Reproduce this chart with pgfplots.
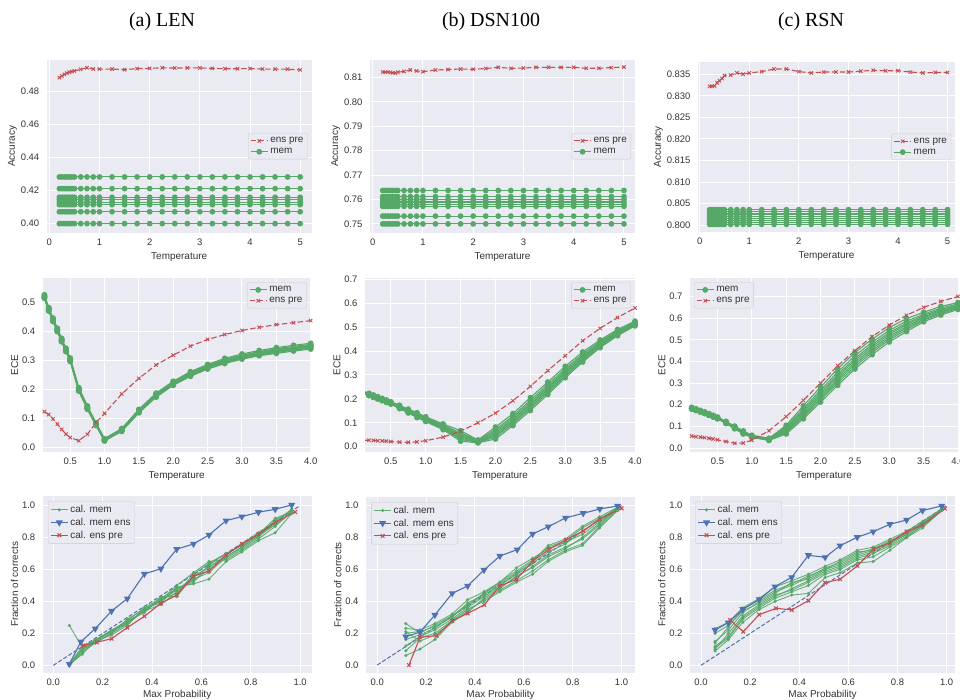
\documentclass[border=0pt]{standalone}
\usepackage{pgfplots}
\pgfplotsset{compat=1.18}
\usepackage{pgfplotstable}
\usepackage{fontspec}
\setmainfont{Liberation Sans}
\newfontfamily\titlefont{Liberation Serif}

\definecolor{sbbg}{HTML}{EAEAF2}
\definecolor{sbred}{HTML}{C44E52}
\definecolor{sbgreen}{HTML}{55A868}
\definecolor{sbblue}{HTML}{4C72B0}
\definecolor{lbl}{HTML}{333333}

% accuracy vs temperature: e = ens pre, m1..m8 = members
\pgfplotstableread{
T e m1 m2 m3 m4 m5 m6 m7 m8
0.2   0.4885 0.4283 0.4212 0.4160 0.4145 0.4130 0.4115 0.4072 0.4000
0.25  0.4895 0.4283 0.4212 0.4160 0.4145 0.4130 0.4115 0.4072 0.4000
0.3   0.4905 0.4283 0.4212 0.4160 0.4145 0.4130 0.4115 0.4072 0.4000
0.35  0.4912 0.4283 0.4212 0.4160 0.4145 0.4130 0.4115 0.4072 0.4000
0.4   0.4918 0.4283 0.4212 0.4160 0.4145 0.4130 0.4115 0.4072 0.4000
0.45  0.4922 0.4283 0.4212 0.4160 0.4145 0.4130 0.4115 0.4072 0.4000
0.5   0.4926 0.4283 0.4212 0.4160 0.4145 0.4130 0.4115 0.4072 0.4000
0.625 0.4935 0.4283 0.4212 0.4160 0.4145 0.4130 0.4115 0.4072 0.4000
0.75  0.4945 0.4283 0.4212 0.4160 0.4145 0.4130 0.4115 0.4072 0.4000
0.875 0.4938 0.4283 0.4212 0.4160 0.4145 0.4130 0.4115 0.4072 0.4000
1     0.4937 0.4283 0.4212 0.4160 0.4145 0.4130 0.4115 0.4072 0.4000
1.25  0.4937 0.4283 0.4212 0.4160 0.4145 0.4130 0.4115 0.4072 0.4000
1.5   0.4933 0.4283 0.4212 0.4160 0.4145 0.4130 0.4115 0.4072 0.4000
1.75  0.4940 0.4283 0.4212 0.4160 0.4145 0.4130 0.4115 0.4072 0.4000
2     0.4941 0.4283 0.4212 0.4160 0.4145 0.4130 0.4115 0.4072 0.4000
2.25  0.4945 0.4283 0.4212 0.4160 0.4145 0.4130 0.4115 0.4072 0.4000
2.5   0.4943 0.4283 0.4212 0.4160 0.4145 0.4130 0.4115 0.4072 0.4000
2.75  0.4944 0.4283 0.4212 0.4160 0.4145 0.4130 0.4115 0.4072 0.4000
3     0.4944 0.4283 0.4212 0.4160 0.4145 0.4130 0.4115 0.4072 0.4000
3.25  0.4941 0.4283 0.4212 0.4160 0.4145 0.4130 0.4115 0.4072 0.4000
3.5   0.4939 0.4283 0.4212 0.4160 0.4145 0.4130 0.4115 0.4072 0.4000
3.75  0.4939 0.4283 0.4212 0.4160 0.4145 0.4130 0.4115 0.4072 0.4000
4     0.4940 0.4283 0.4212 0.4160 0.4145 0.4130 0.4115 0.4072 0.4000
4.25  0.4937 0.4283 0.4212 0.4160 0.4145 0.4130 0.4115 0.4072 0.4000
4.5   0.4937 0.4283 0.4212 0.4160 0.4145 0.4130 0.4115 0.4072 0.4000
4.75  0.4936 0.4283 0.4212 0.4160 0.4145 0.4130 0.4115 0.4072 0.4000
5     0.4932 0.4283 0.4212 0.4160 0.4145 0.4130 0.4115 0.4072 0.4000
}\accA

\pgfplotstableread{
T e m1 m2 m3 m4 m5 m6 m7 m8
0.2   0.8123 0.7637 0.7612 0.7600 0.7590 0.7580 0.7572 0.7532 0.7500
0.25  0.8122 0.7637 0.7612 0.7600 0.7590 0.7580 0.7572 0.7532 0.7500
0.3   0.8123 0.7637 0.7612 0.7600 0.7590 0.7580 0.7572 0.7532 0.7500
0.35  0.8121 0.7637 0.7612 0.7600 0.7590 0.7580 0.7572 0.7532 0.7500
0.4   0.8120 0.7637 0.7612 0.7600 0.7590 0.7580 0.7572 0.7532 0.7500
0.45  0.8119 0.7637 0.7612 0.7600 0.7590 0.7580 0.7572 0.7532 0.7500
0.5   0.8122 0.7637 0.7612 0.7600 0.7590 0.7580 0.7572 0.7532 0.7500
0.625 0.8125 0.7637 0.7612 0.7600 0.7590 0.7580 0.7572 0.7532 0.7500
0.75  0.8131 0.7637 0.7612 0.7600 0.7590 0.7580 0.7572 0.7532 0.7500
0.875 0.8127 0.7637 0.7612 0.7600 0.7590 0.7580 0.7572 0.7532 0.7500
1     0.8124 0.7637 0.7612 0.7600 0.7590 0.7580 0.7572 0.7532 0.7500
1.25  0.8131 0.7637 0.7612 0.7600 0.7590 0.7580 0.7572 0.7532 0.7500
1.5   0.8133 0.7637 0.7612 0.7600 0.7590 0.7580 0.7572 0.7532 0.7500
1.75  0.8135 0.7637 0.7612 0.7600 0.7590 0.7580 0.7572 0.7532 0.7500
2     0.8134 0.7637 0.7612 0.7600 0.7590 0.7580 0.7572 0.7532 0.7500
2.25  0.8137 0.7637 0.7612 0.7600 0.7590 0.7580 0.7572 0.7532 0.7500
2.5   0.8142 0.7637 0.7612 0.7600 0.7590 0.7580 0.7572 0.7532 0.7500
2.75  0.8138 0.7637 0.7612 0.7600 0.7590 0.7580 0.7572 0.7532 0.7500
3     0.8139 0.7637 0.7612 0.7600 0.7590 0.7580 0.7572 0.7532 0.7500
3.25  0.8142 0.7637 0.7612 0.7600 0.7590 0.7580 0.7572 0.7532 0.7500
3.5   0.8142 0.7637 0.7612 0.7600 0.7590 0.7580 0.7572 0.7532 0.7500
3.75  0.8142 0.7637 0.7612 0.7600 0.7590 0.7580 0.7572 0.7532 0.7500
4     0.8142 0.7637 0.7612 0.7600 0.7590 0.7580 0.7572 0.7532 0.7500
4.25  0.8138 0.7637 0.7612 0.7600 0.7590 0.7580 0.7572 0.7532 0.7500
4.5   0.8138 0.7637 0.7612 0.7600 0.7590 0.7580 0.7572 0.7532 0.7500
4.75  0.8141 0.7637 0.7612 0.7600 0.7590 0.7580 0.7572 0.7532 0.7500
5     0.8143 0.7637 0.7612 0.7600 0.7590 0.7580 0.7572 0.7532 0.7500
}\accB

\pgfplotstableread{
T e m1 m2 m3 m4 m5 m6 m7 m8
0.2   0.8322 0.8036 0.8031 0.8026 0.8021 0.8016 0.8011 0.8006 0.8002
0.25  0.8322 0.8036 0.8031 0.8026 0.8021 0.8016 0.8011 0.8006 0.8002
0.3   0.8323 0.8036 0.8031 0.8026 0.8021 0.8016 0.8011 0.8006 0.8002
0.35  0.8330 0.8036 0.8031 0.8026 0.8021 0.8016 0.8011 0.8006 0.8002
0.4   0.8335 0.8036 0.8031 0.8026 0.8021 0.8016 0.8011 0.8006 0.8002
0.45  0.8340 0.8036 0.8031 0.8026 0.8021 0.8016 0.8011 0.8006 0.8002
0.5   0.8347 0.8036 0.8031 0.8026 0.8021 0.8016 0.8011 0.8006 0.8002
0.625 0.8348 0.8036 0.8031 0.8026 0.8021 0.8016 0.8011 0.8006 0.8002
0.75  0.8353 0.8036 0.8031 0.8026 0.8021 0.8016 0.8011 0.8006 0.8002
0.875 0.8350 0.8036 0.8031 0.8026 0.8021 0.8016 0.8011 0.8006 0.8002
1     0.8353 0.8036 0.8031 0.8026 0.8021 0.8016 0.8011 0.8006 0.8002
1.25  0.8356 0.8036 0.8031 0.8026 0.8021 0.8016 0.8011 0.8006 0.8002
1.5   0.8362 0.8036 0.8031 0.8026 0.8021 0.8016 0.8011 0.8006 0.8002
1.75  0.8362 0.8036 0.8031 0.8026 0.8021 0.8016 0.8011 0.8006 0.8002
2     0.8356 0.8036 0.8031 0.8026 0.8021 0.8016 0.8011 0.8006 0.8002
2.25  0.8353 0.8036 0.8031 0.8026 0.8021 0.8016 0.8011 0.8006 0.8002
2.5   0.8355 0.8036 0.8031 0.8026 0.8021 0.8016 0.8011 0.8006 0.8002
2.75  0.8355 0.8036 0.8031 0.8026 0.8021 0.8016 0.8011 0.8006 0.8002
3     0.8355 0.8036 0.8031 0.8026 0.8021 0.8016 0.8011 0.8006 0.8002
3.25  0.8357 0.8036 0.8031 0.8026 0.8021 0.8016 0.8011 0.8006 0.8002
3.5   0.8359 0.8036 0.8031 0.8026 0.8021 0.8016 0.8011 0.8006 0.8002
3.75  0.8358 0.8036 0.8031 0.8026 0.8021 0.8016 0.8011 0.8006 0.8002
4     0.8358 0.8036 0.8031 0.8026 0.8021 0.8016 0.8011 0.8006 0.8002
4.25  0.8355 0.8036 0.8031 0.8026 0.8021 0.8016 0.8011 0.8006 0.8002
4.5   0.8353 0.8036 0.8031 0.8026 0.8021 0.8016 0.8011 0.8006 0.8002
4.75  0.8354 0.8036 0.8031 0.8026 0.8021 0.8016 0.8011 0.8006 0.8002
5     0.8354 0.8036 0.8031 0.8026 0.8021 0.8016 0.8011 0.8006 0.8002
}\accC

% ECE vs temperature
\pgfplotstableread{
T e m1 m2 m3 m4 m5 m6 m7 m8
0.125  0.123 0.514 0.516 0.517 0.519 0.520 0.522 0.524 0.526
0.1875 0.113 0.470 0.472 0.473 0.475 0.476 0.478 0.480 0.482
0.25   0.098 0.434 0.436 0.437 0.439 0.440 0.442 0.444 0.446
0.3125 0.080 0.399 0.401 0.402 0.404 0.405 0.407 0.409 0.411
0.375  0.062 0.364 0.366 0.367 0.369 0.370 0.372 0.374 0.376
0.4375 0.046 0.330 0.332 0.333 0.335 0.336 0.338 0.340 0.342
0.5    0.034 0.296 0.298 0.299 0.301 0.302 0.304 0.306 0.308
0.625  0.023 0.194 0.196 0.197 0.199 0.200 0.202 0.204 0.206
0.75   0.045 0.131 0.133 0.134 0.136 0.137 0.139 0.141 0.143
0.875  0.085 0.075 0.077 0.078 0.079 0.080 0.082 0.083 0.085
1      0.117 0.022 0.023 0.024 0.025 0.026 0.027 0.028 0.030
1.25   0.184 0.055 0.057 0.058 0.059 0.060 0.062 0.063 0.065
1.5    0.238 0.119 0.121 0.122 0.124 0.125 0.127 0.129 0.131
1.75   0.284 0.173 0.175 0.177 0.179 0.180 0.182 0.184 0.187
2      0.318 0.214 0.216 0.218 0.220 0.221 0.223 0.225 0.228
2.25   0.349 0.245 0.247 0.249 0.251 0.253 0.255 0.258 0.261
2.5    0.372 0.270 0.272 0.274 0.276 0.278 0.280 0.283 0.286
2.75   0.389 0.289 0.292 0.294 0.296 0.298 0.301 0.303 0.307
3      0.403 0.304 0.307 0.309 0.311 0.313 0.316 0.318 0.322
3.25   0.414 0.316 0.319 0.321 0.323 0.325 0.328 0.330 0.334
3.5    0.423 0.324 0.327 0.330 0.332 0.335 0.337 0.340 0.344
3.75   0.430 0.332 0.335 0.338 0.340 0.343 0.345 0.348 0.352
4      0.437 0.339 0.342 0.345 0.347 0.350 0.352 0.355 0.359
}\eceA

\pgfplotstableread{
T e m1 m2 m3 m4 m5 m6 m7 m8
0.125  0.027 0.220 0.222 0.223 0.224 0.225 0.227 0.228 0.230
0.1875 0.027 0.213 0.215 0.216 0.217 0.218 0.220 0.221 0.223
0.25   0.026 0.206 0.208 0.209 0.210 0.211 0.213 0.214 0.216
0.3125 0.025 0.199 0.201 0.202 0.203 0.204 0.206 0.207 0.209
0.375  0.024 0.192 0.194 0.195 0.196 0.197 0.199 0.200 0.202
0.4375 0.023 0.185 0.187 0.188 0.189 0.190 0.192 0.193 0.195
0.5    0.021 0.178 0.180 0.181 0.182 0.183 0.185 0.186 0.188
0.625  0.019 0.159 0.161 0.163 0.165 0.166 0.168 0.170 0.173
0.75   0.018 0.141 0.143 0.145 0.147 0.149 0.151 0.154 0.157
0.875  0.020 0.122 0.125 0.128 0.130 0.133 0.135 0.138 0.142
1      0.025 0.105 0.108 0.111 0.113 0.116 0.118 0.121 0.125
1.25   0.040 0.071 0.075 0.078 0.081 0.084 0.087 0.090 0.095
1.5    0.065 0.023 0.030 0.035 0.041 0.046 0.052 0.058 0.067
1.75   0.100 0.016 0.018 0.019 0.021 0.022 0.024 0.026 0.028
2      0.140 0.032 0.040 0.046 0.052 0.058 0.065 0.072 0.082
2.25   0.192 0.088 0.096 0.102 0.108 0.114 0.121 0.128 0.138
2.5    0.252 0.151 0.159 0.166 0.173 0.179 0.186 0.194 0.205
2.75   0.318 0.218 0.226 0.232 0.239 0.245 0.252 0.260 0.270
3      0.380 0.288 0.295 0.301 0.307 0.313 0.319 0.326 0.336
3.25   0.443 0.354 0.360 0.366 0.371 0.376 0.381 0.388 0.396
3.5    0.495 0.414 0.419 0.423 0.427 0.431 0.435 0.440 0.446
3.75   0.540 0.464 0.468 0.471 0.474 0.478 0.481 0.485 0.490
4      0.580 0.505 0.508 0.511 0.513 0.516 0.518 0.521 0.525
}\eceB

\pgfplotstableread{
T e m1 m2 m3 m4 m5 m6 m7 m8
0.125  0.055 0.180 0.181 0.182 0.183 0.184 0.185 0.186 0.188
0.1875 0.052 0.173 0.174 0.175 0.176 0.177 0.178 0.179 0.181
0.25   0.050 0.166 0.167 0.168 0.169 0.170 0.171 0.172 0.174
0.3125 0.048 0.159 0.160 0.161 0.162 0.163 0.164 0.165 0.167
0.375  0.045 0.151 0.152 0.153 0.154 0.155 0.156 0.157 0.159
0.4375 0.042 0.143 0.144 0.145 0.146 0.147 0.148 0.149 0.151
0.5    0.038 0.135 0.136 0.137 0.138 0.139 0.140 0.141 0.143
0.625  0.030 0.113 0.115 0.116 0.117 0.118 0.120 0.121 0.123
0.75   0.022 0.089 0.091 0.092 0.094 0.095 0.097 0.099 0.101
0.875  0.023 0.065 0.067 0.069 0.071 0.072 0.074 0.076 0.079
1      0.036 0.049 0.051 0.052 0.053 0.054 0.056 0.057 0.059
1.25   0.080 0.035 0.037 0.038 0.039 0.040 0.042 0.043 0.045
1.5    0.145 0.065 0.071 0.076 0.081 0.086 0.091 0.097 0.105
1.75   0.220 0.135 0.144 0.152 0.159 0.167 0.174 0.183 0.195
2      0.300 0.212 0.223 0.231 0.240 0.249 0.258 0.268 0.282
2.25   0.380 0.290 0.301 0.311 0.320 0.330 0.339 0.351 0.366
2.5    0.450 0.365 0.376 0.386 0.395 0.405 0.414 0.426 0.441
2.75   0.515 0.431 0.442 0.451 0.460 0.469 0.478 0.489 0.503
3      0.568 0.490 0.500 0.508 0.516 0.525 0.533 0.543 0.556
3.25   0.613 0.538 0.547 0.555 0.562 0.570 0.577 0.586 0.598
3.5    0.650 0.583 0.590 0.595 0.601 0.606 0.612 0.618 0.627
3.75   0.677 0.614 0.620 0.625 0.630 0.635 0.640 0.646 0.654
4      0.700 0.640 0.645 0.649 0.653 0.657 0.661 0.666 0.672
}\eceC

% calibration curves of the members
\pgfplotstableread{
p g1 g2 g3 g4 g5 g6 g7 g8
0.065 0.25 0.00 0.01 0.00 0.005 0.01 0.00 0.005
0.118 0.11 0.08 0.10 0.09 0.12 0.10 0.11 0.07
0.170 0.15 0.14 0.16 0.15 0.16 0.14 0.15 0.16
0.236 0.21 0.20 0.22 0.19 0.21 0.20 0.22 0.21
0.300 0.27 0.26 0.28 0.25 0.27 0.29 0.26 0.28
0.369 0.34 0.35 0.33 0.36 0.34 0.35 0.34 0.36
0.436 0.41 0.40 0.42 0.39 0.43 0.41 0.38 0.42
0.500 0.47 0.48 0.45 0.49 0.43 0.50 0.46 0.48
0.568 0.55 0.53 0.57 0.51 0.56 0.58 0.54 0.52
0.631 0.62 0.60 0.64 0.54 0.61 0.65 0.58 0.63
0.700 0.68 0.67 0.70 0.65 0.69 0.66 0.68 0.70
0.764 0.74 0.73 0.75 0.71 0.76 0.72 0.74 0.75
0.831 0.81 0.80 0.82 0.78 0.83 0.79 0.81 0.82
0.899 0.88 0.90 0.92 0.83 0.89 0.87 0.91 0.88
0.966 0.96 0.97 0.96 0.95 0.98 0.96 0.97 0.96
}\calA

\pgfplotstableread{
p g1 g2 g3 g4 g5 g6 g7 g8
0.117 0.26 0.06 0.23 0.12 0.20 0.09 0.16 0.21
0.175 0.20 0.10 0.22 0.18 0.21 0.17 0.19 0.15
0.236 0.25 0.16 0.26 0.22 0.24 0.20 0.23 0.19
0.307 0.31 0.27 0.32 0.29 0.30 0.28 0.31 0.27
0.370 0.38 0.34 0.41 0.36 0.39 0.35 0.37 0.33
0.437 0.45 0.41 0.46 0.43 0.44 0.40 0.45 0.42
0.502 0.51 0.47 0.52 0.49 0.50 0.46 0.52 0.48
0.570 0.58 0.53 0.61 0.55 0.57 0.52 0.59 0.56
0.636 0.65 0.59 0.67 0.62 0.64 0.57 0.66 0.61
0.700 0.75 0.66 0.73 0.69 0.71 0.65 0.74 0.68
0.770 0.79 0.72 0.77 0.74 0.76 0.71 0.78 0.73
0.840 0.87 0.76 0.82 0.79 0.84 0.75 0.86 0.80
0.910 0.93 0.87 0.90 0.88 0.91 0.86 0.92 0.89
0.984 0.99 0.97 0.98 0.98 0.99 0.97 0.98 0.98
}\calB

\pgfplotstableread{
p g1 g2 g3 g4 g5 g6 g7 g8
0.057 0.12 0.09 0.15 0.23 0.10 0.14 0.11 0.20
0.111 0.18 0.16 0.22 0.27 0.20 0.24 0.17 0.25
0.170 0.30 0.27 0.33 0.36 0.31 0.35 0.29 0.34
0.237 0.37 0.35 0.40 0.42 0.38 0.41 0.36 0.39
0.301 0.43 0.40 0.46 0.49 0.44 0.47 0.42 0.45
0.369 0.48 0.44 0.50 0.53 0.47 0.51 0.46 0.52
0.437 0.53 0.45 0.55 0.57 0.52 0.56 0.50 0.54
0.505 0.59 0.55 0.61 0.62 0.58 0.60 0.57 0.60
0.566 0.62 0.58 0.64 0.66 0.61 0.65 0.60 0.63
0.636 0.68 0.64 0.70 0.72 0.67 0.71 0.66 0.69
0.701 0.71 0.65 0.73 0.74 0.70 0.72 0.68 0.72
0.769 0.76 0.72 0.78 0.79 0.75 0.77 0.74 0.77
0.837 0.82 0.80 0.83 0.84 0.81 0.83 0.80 0.82
0.902 0.88 0.86 0.89 0.90 0.87 0.89 0.88 0.88
0.980 0.97 0.97 0.98 0.98 0.97 0.98 0.97 0.98
}\calC

\pgfplotsset{
  sb/.style={
    scale only axis, anchor=south west,
    axis background/.style={fill=sbbg},
    axis line style={draw=none},
    major tick length=0pt,
    xmajorgrids, ymajorgrids,
    major grid style={white, line width=1bp},
    tick label style={font=\fontsize{9.5}{11}\selectfont, text=lbl},
    yticklabel style={xshift=-4bp},
    xticklabel style={yshift=-3bp},
    label style={font=\fontsize{10}{12}\selectfont, text=lbl},
    ylabel shift=-3bp,
    /pgf/number format/assume math mode=true,
    scaled ticks=false,
    legend cell align=left,
    legend style={font=\fontsize{10}{12}\selectfont, text=lbl,
      fill=sbbg, draw=black!20, rounded corners=2bp, inner sep=2bp},
  },
  yfmt/.style={yticklabel style={/pgf/number format/.cd, fixed, fixed zerofill, precision=#1}},
  xfmt/.style={xticklabel style={/pgf/number format/.cd, fixed, fixed zerofill, precision=#1}},
  redT/.style={color=sbred, line width=1.1bp, dash pattern=on 5.5bp off 2.5bp,
    mark=x, mark size=2.4bp, mark options={solid, line width=0.9bp}},
  greenT/.style={color=sbgreen, line width=1.1bp, mark=*, mark size=2.3bp,
    mark options={solid, draw=sbgreen, fill=sbgreen}},
  greenC/.style={color=sbgreen, line width=0.9bp, opacity=0.9, mark=*, mark size=1.1bp,
    mark options={draw=sbgreen, fill=sbgreen}},
  blueC/.style={color=sbblue, line width=1.1bp, mark=triangle*, mark size=3bp,
    mark options={rotate=180, fill=sbblue}},
  redC/.style={color=sbred, line width=1.1bp, mark=x, mark size=2.6bp},
  diag/.style={color=sbblue, line width=1bp, dash pattern=on 4bp off 2bp},
}

\begin{document}
\begin{tikzpicture}
\path[use as bounding box] (0,0) rectangle (960bp,700bp);

\node[font=\titlefont\fontsize{20}{22}\selectfont, anchor=base] at (162bp,673bp) {(a) LEN};
\node[font=\titlefont\fontsize{20}{22}\selectfont, anchor=base] at (491bp,673bp) {(b) DSN100};
\node[font=\titlefont\fontsize{20}{22}\selectfont, anchor=base] at (811bp,673bp) {(c) RSN};

% ---- row 1: accuracy ----
\begin{axis}[sb, at={(46.7bp,467.3bp)}, width=265bp, height=172.7bp,
  xmin=-0.053, xmax=5.23, ymin=0.3945, ymax=0.4992,
  xtick={0,1,2,3,4,5}, ytick={0.40,0.42,0.44,0.46,0.48}, yfmt=2,
  xlabel={Temperature}, ylabel={Accuracy},
  legend style={at={(0.985,0.5)}, anchor=east}]
\addplot[redT] table[x=T,y=e] {\accA}; \addlegendentry{ens pre}
\addplot[greenT] table[x=T,y=m1] {\accA}; \addlegendentry{mem}
\pgfplotsinvokeforeach{2,...,8}{\addplot[greenT, forget plot] table[x=T,y=m#1] {\accA};}
\end{axis}

\begin{axis}[sb, at={(370bp,467.3bp)}, width=265bp, height=172.7bp,
  xmin=-0.053, xmax=5.22, ymin=0.7464, ymax=0.8172,
  xtick={0,1,2,3,4,5}, ytick={0.75,0.76,0.77,0.78,0.79,0.80,0.81}, yfmt=2,
  xlabel={Temperature}, ylabel={Accuracy},
  legend style={at={(0.985,0.5)}, anchor=east}]
\addplot[redT] table[x=T,y=e] {\accB}; \addlegendentry{ens pre}
\addplot[greenT] table[x=T,y=m1] {\accB}; \addlegendentry{mem}
\pgfplotsinvokeforeach{2,...,8}{\addplot[greenT, forget plot] table[x=T,y=m#1] {\accB};}
\end{axis}

\begin{axis}[sb, at={(698bp,468.3bp)}, width=257bp, height=170bp,
  xmin=-0.034, xmax=5.15, ymin=0.7985, ymax=0.8379,
  xtick={0,1,2,3,4,5}, ytick={0.800,0.805,0.810,0.815,0.820,0.825,0.830,0.835}, yfmt=3,
  xlabel={Temperature}, ylabel={Accuracy},
  legend style={at={(0.985,0.5)}, anchor=east}]
\addplot[redT] table[x=T,y=e] {\accC}; \addlegendentry{ens pre}
\addplot[greenT] table[x=T,y=m1] {\accC}; \addlegendentry{mem}
\pgfplotsinvokeforeach{2,...,8}{\addplot[greenT, forget plot] table[x=T,y=m#1] {\accC};}
\end{axis}

% ---- row 2: ECE ----
\begin{axis}[sb, at={(42.7bp,248.3bp)}, width=268bp, height=173.4bp,
  xmin=0.1, xmax=4.0, ymin=-0.015, ymax=0.583,
  xtick={0.5,1,...,4}, ytick={0,0.1,...,0.5}, xfmt=1, yfmt=1,
  xlabel={Temperature}, ylabel={ECE},
  legend style={at={(0.985,0.977)}, anchor=north east}]
\addplot[greenT] table[x=T,y=m1] {\eceA}; \addlegendentry{mem}
\pgfplotsinvokeforeach{2,...,8}{\addplot[greenT, forget plot] table[x=T,y=m#1] {\eceA};}
\addplot[redT] table[x=T,y=e] {\eceA}; \addlegendentry{ens pre}
\end{axis}

\begin{axis}[sb, at={(365bp,248.3bp)}, width=270bp, height=173.4bp,
  xmin=0.13, xmax=4.0, ymin=-0.021, ymax=0.704,
  xtick={0.5,1,...,4}, ytick={0,0.1,...,0.7}, xfmt=1, yfmt=1,
  xlabel={Temperature}, ylabel={ECE},
  legend style={at={(0.985,0.977)}, anchor=north east}]
\addplot[greenT] table[x=T,y=m1] {\eceB}; \addlegendentry{mem}
\pgfplotsinvokeforeach{2,...,8}{\addplot[greenT, forget plot] table[x=T,y=m#1] {\eceB};}
\addplot[redT] table[x=T,y=e] {\eceB}; \addlegendentry{ens pre}
\end{axis}

\begin{axis}[sb, at={(690bp,248.3bp)}, width=268bp, height=173.4bp,
  xmin=0.1, xmax=4.0, ymin=-0.017, ymax=0.784,
  xtick={0.5,1,...,4}, ytick={0,0.1,...,0.7}, xfmt=1, yfmt=1,
  xlabel={Temperature}, ylabel={ECE},
  legend style={at={(0.015,0.977)}, anchor=north west}]
\addplot[greenT] table[x=T,y=m1] {\eceC}; \addlegendentry{mem}
\pgfplotsinvokeforeach{2,...,8}{\addplot[greenT, forget plot] table[x=T,y=m#1] {\eceC};}
\addplot[redT] table[x=T,y=e] {\eceC}; \addlegendentry{ens pre}
\end{axis}

% ---- row 3: calibration ----
\begin{axis}[sb, at={(42.7bp,27.3bp)}, width=269bp, height=176.7bp,
  xmin=-0.043, xmax=1.047, ymin=-0.046, ymax=1.06,
  xtick={0,0.2,...,1}, ytick={0,0.2,...,1}, xfmt=1, yfmt=1,
  xlabel={Max Probability}, ylabel={Fraction of corrects},
  xlabel style={yshift=2.5bp},
  legend style={at={(0.02,0.97)}, anchor=north west}]
\addplot[diag, forget plot] coordinates {(0,0) (1,1)};
\addplot[greenC] table[x=p,y=g1] {\calA}; \addlegendentry{cal. mem}
\pgfplotsinvokeforeach{2,...,8}{\addplot[greenC, forget plot] table[x=p,y=g#1] {\calA};}
\addplot[blueC] coordinates {(0.065,0.008) (0.112,0.148) (0.170,0.230) (0.236,0.340) (0.300,0.418)
  (0.369,0.572) (0.436,0.605) (0.500,0.727) (0.568,0.760) (0.631,0.816) (0.700,0.906)
  (0.764,0.931) (0.831,0.958) (0.899,0.977) (0.966,1.004)}; \addlegendentry{cal. mem ens}
\addplot[redC] coordinates {(0.122,0.125) (0.176,0.144) (0.236,0.167) (0.300,0.236) (0.369,0.307)
  (0.436,0.388) (0.500,0.440) (0.568,0.558) (0.631,0.591) (0.700,0.690) (0.764,0.760)
  (0.831,0.820) (0.899,0.895) (0.980,0.960)}; \addlegendentry{cal. ens pre}
\end{axis}

\begin{axis}[sb, at={(366bp,27.3bp)}, width=269bp, height=176bp,
  xmin=-0.046, xmax=1.055, ymin=-0.048, ymax=1.056,
  xtick={0,0.2,...,1}, ytick={0,0.2,...,1}, xfmt=1, yfmt=1,
  xlabel={Max Probability}, ylabel={Fraction of corrects},
  xlabel style={yshift=2.5bp},
  legend style={at={(0.02,0.97)}, anchor=north west}]
\addplot[diag, forget plot] coordinates {(0,0) (1,1)};
\addplot[greenC] table[x=p,y=g1] {\calB}; \addlegendentry{cal. mem}
\pgfplotsinvokeforeach{2,...,8}{\addplot[greenC, forget plot] table[x=p,y=g#1] {\calB};}
\addplot[blueC] coordinates {(0.117,0.178) (0.175,0.207) (0.236,0.314) (0.307,0.450) (0.370,0.496)
  (0.437,0.596) (0.502,0.684) (0.573,0.724) (0.636,0.822) (0.700,0.868) (0.771,0.923)
  (0.843,0.952) (0.911,0.979) (0.984,0.998)}; \addlegendentry{cal. mem ens}
\addplot[redC] coordinates {(0.130,0.000) (0.175,0.174) (0.243,0.184) (0.307,0.278) (0.370,0.324)
  (0.438,0.377) (0.502,0.496) (0.570,0.538) (0.638,0.655) (0.704,0.726) (0.772,0.785)
  (0.843,0.841) (0.911,0.916) (1.000,0.983)}; \addlegendentry{cal. ens pre}
\end{axis}

\begin{axis}[sb, at={(690bp,27.3bp)}, width=265bp, height=176.7bp,
  xmin=-0.045, xmax=1.034, ymin=-0.046, ymax=1.06,
  xtick={0,0.2,...,1}, ytick={0,0.2,...,1}, xfmt=1, yfmt=1,
  xlabel={Max Probability}, ylabel={Fraction of corrects},
  xlabel style={yshift=2.5bp},
  legend style={at={(0.02,0.97)}, anchor=north west}]
\addplot[diag, forget plot] coordinates {(0,0) (1,1)};
\addplot[greenC] table[x=p,y=g1] {\calC}; \addlegendentry{cal. mem}
\pgfplotsinvokeforeach{2,...,8}{\addplot[greenC, forget plot] table[x=p,y=g#1] {\calC};}
\addplot[blueC] coordinates {(0.057,0.221) (0.111,0.267) (0.170,0.351) (0.237,0.413) (0.301,0.493)
  (0.369,0.551) (0.437,0.689) (0.505,0.676) (0.566,0.749) (0.636,0.802) (0.701,0.837)
  (0.769,0.883) (0.837,0.910) (0.902,0.969) (0.980,0.998)}; \addlegendentry{cal. mem ens}
\addplot[redC] coordinates {(0.118,0.284) (0.172,0.211) (0.236,0.317) (0.305,0.357) (0.369,0.347)
  (0.437,0.405) (0.505,0.518) (0.566,0.539) (0.636,0.622) (0.701,0.727) (0.769,0.768)
  (0.837,0.837) (0.902,0.879) (0.993,0.981)}; \addlegendentry{cal. ens pre}
\end{axis}
\end{tikzpicture}
\end{document}
